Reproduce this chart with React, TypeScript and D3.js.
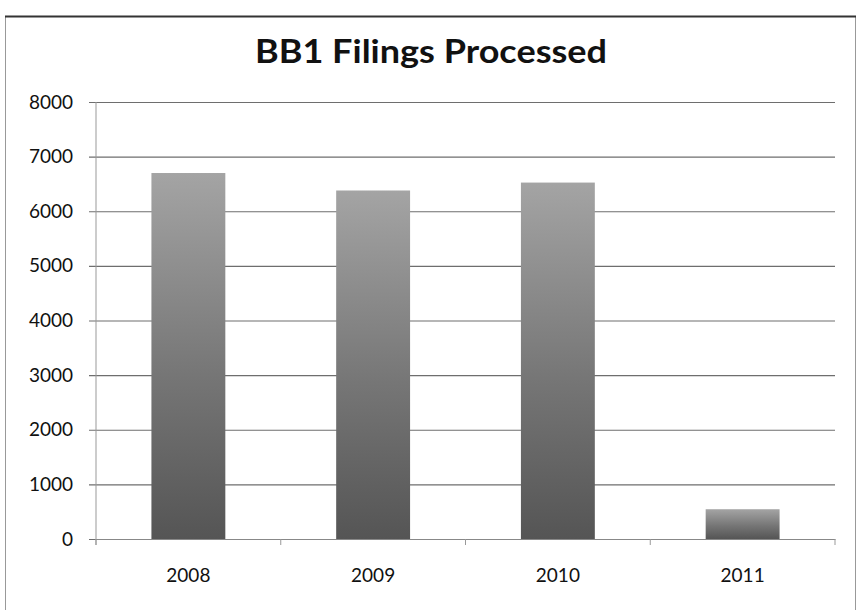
import React, { useEffect, useRef } from "react";
import * as d3 from "d3";

const years = ["2008", "2009", "2010", "2011"];
const filings = [6700, 6380, 6525, 545];
const yTicks = [0, 1000, 2000, 3000, 4000, 5000, 6000, 7000, 8000];

const width = 858;
const height = 610;
const margin = { top: 102, right: 23, bottom: 71, left: 96 };

const drawChart = (svgEl: SVGSVGElement) => {
  const svg = d3.select(svgEl);
  svg.selectAll("*").remove();

  const font = "Lato, 'Open Sans', sans-serif";

  // Outer frame of the scanned chart
  svg
    .append("rect")
    .attr("x", 5.5)
    .attr("y", 16.5)
    .attr("width", 850)
    .attr("height", 600)
    .attr("fill", "#fff")
    .attr("stroke", "#999")
    .attr("stroke-width", 1);
  svg
    .append("line")
    .attr("x1", 5)
    .attr("x2", 856)
    .attr("y1", 16.5)
    .attr("y2", 16.5)
    .attr("stroke", "#333")
    .attr("stroke-width", 2);

  const x = d3
    .scaleBand()
    .domain(years)
    .range([margin.left, width - margin.right])
    .paddingInner(0.6)
    .paddingOuter(0.3);

  const y = d3
    .scaleLinear()
    .domain([0, 8000])
    .range([height - margin.bottom, margin.top]);

  // Gradient for bars: light at top, dark at bottom
  const defs = svg.append("defs");
  const grad = defs
    .append("linearGradient")
    .attr("id", "barGrad")
    .attr("x1", 0)
    .attr("y1", 0)
    .attr("x2", 0)
    .attr("y2", 1);
  grad.append("stop").attr("offset", "0%").attr("stop-color", "#a4a4a4");
  grad.append("stop").attr("offset", "55%").attr("stop-color", "#767676");
  grad.append("stop").attr("offset", "100%").attr("stop-color", "#555555");

  // Gridlines + y labels
  const yAxis = d3
    .axisLeft(y)
    .tickValues(yTicks)
    .tickSize(-(width - margin.right - margin.left))
    .tickPadding(23)
    .tickFormat((d) => String(d));

  const gy = svg
    .append("g")
    .attr("transform", `translate(${margin.left}, 0)`)
    .call(yAxis);
  gy.select(".domain").remove();
  gy.selectAll(".tick line")
    .attr("x1", -7)
    .attr("stroke", "#6e6e6e")
    .attr("stroke-width", 1.2);
  gy.selectAll(".tick text")
    .attr("fill", "#111")
    .style("font-family", font)
    .style("font-size", "19px");

  // Y axis line
  svg
    .append("line")
    .attr("x1", margin.left)
    .attr("x2", margin.left)
    .attr("y1", margin.top)
    .attr("y2", height - margin.bottom + 6)
    .attr("stroke", "#999")
    .attr("stroke-width", 1);

  // Bars
  svg
    .selectAll("rect.bar")
    .data(filings)
    .enter()
    .append("rect")
    .attr("class", "bar")
    .attr("x", (d, i) => x(years[i]) as number)
    .attr("y", (d) => y(d))
    .attr("width", x.bandwidth())
    .attr("height", (d) => y(0) - y(d))
    .attr("fill", "url(#barGrad)");

  // X axis
  const xAxis = d3.axisBottom(x).tickSize(0).tickPadding(30);
  const gx = svg
    .append("g")
    .attr("transform", `translate(0, ${y(0)})`)
    .call(xAxis);
  gx.select(".domain").attr("stroke", "#888");
  gx.selectAll(".tick text")
    .attr("fill", "#111")
    .style("font-family", font)
    .style("font-size", "19px");

  // Category separator ticks
  const step = x.step();
  const boundaries = d3.range(years.length + 1).map((i) => margin.left + i * step);
  svg
    .selectAll("line.sep")
    .data(boundaries)
    .enter()
    .append("line")
    .attr("class", "sep")
    .attr("x1", (d) => d)
    .attr("x2", (d) => d)
    .attr("y1", y(0))
    .attr("y2", y(0) + 6)
    .attr("stroke", "#999");

  // Title
  svg
    .append("text")
    .attr("x", 431)
    .attr("y", 63)
    .attr("text-anchor", "middle")
    .attr("textLength", 352)
    .attr("lengthAdjust", "spacingAndGlyphs")
    .style("font-family", font)
    .style("font-size", "32px")
    .style("font-weight", "bold")
    .attr("fill", "#111")
    .text("BB1 Filings Processed");
};

export default function App() {
  const ref = useRef<SVGSVGElement>(null);
  useEffect(() => {
    if (ref.current) drawChart(ref.current);
  }, []);
  return (
    <svg
      ref={ref}
      width={width}
      height={height}
      style={{ position: "absolute", left: 0, top: 0 }}
    />
  );
}
